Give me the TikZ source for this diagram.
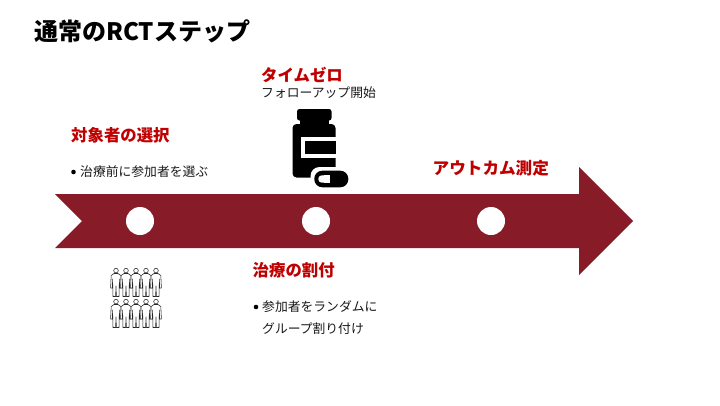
\documentclass[tikz,border=0pt]{standalone}
\usepackage{fontspec}
\setmainfont{Noto Sans CJK JP}
\definecolor{arrowred}{RGB}{136,27,40}
\definecolor{headred}{RGB}{192,0,0}
\tikzset{
  titletext/.style={anchor=west,inner sep=0pt,font=\fontsize{24}{28}\selectfont\bfseries,text=black},
  headtext/.style={anchor=west,inner sep=0pt,font=\fontsize{16.4}{20}\selectfont\bfseries,text=headred},
  bodytext/.style={anchor=west,inner sep=0pt,font=\fontsize{12.8}{16}\selectfont,text=black!90},
  marker/.style={circle,fill=white,draw=none,minimum size=28pt,inner sep=0pt},
  bulletdot/.style={circle,fill=black,draw=none,minimum size=4.6pt,inner sep=0pt},
  personline/.style={draw=black!85,line width=0.55pt,fill=white,line join=round},
  person/.pic={
    \path[personline] (0,2.6) circle (2.3);
    \path[personline] (-2,5.5) -- (2,5.5) -- (4.8,7.5) -- (5.4,20) -- (3.6,20) -- (3.4,11) -- (3,28.5) -- (0.4,28.5) -- (0,18) -- (-0.4,28.5) -- (-3,28.5) -- (-3.4,11) -- (-3.6,20) -- (-5.4,20) -- (-4.8,7.5) -- cycle;
  }
}
\begin{document}
\begin{tikzpicture}[x=1pt,y=-1pt]
\useasboundingbox (0,0) rectangle (720,405);
\fill[white] (0,0) rectangle (720,405);
\node[titletext] (title) at (34,31) {通常のRCTステップ};
% arrow
\fill[arrowred] (55,194) -- (579,194) -- (579,167) -- (633,221) -- (579,275) -- (579,248) -- (55,248) -- (82,221) -- cycle;
\node[marker] (m1) at (140,221) {};
\node[marker] (m2) at (316,221) {};
\node[marker] (m3) at (491,221) {};
% labels
\node[headtext] (h1) at (71,135) {対象者の選択};
\node[bulletdot] (b1) at (73.5,172) {};
\node[bodytext] (t1) at (80,171.5) {治療前に参加者を選ぶ};
\node[headtext] (h2) at (261,75) {タイムゼロ};
\node[bodytext] (t2) at (261,92.5) {フォローアップ開始};
\node[headtext,font=\fontsize{16.6}{20}\selectfont\bfseries] (h3) at (432.5,168) {アウトカム測定};
\node[headtext] (h4) at (252.5,270) {治療の割付};
\node[bulletdot] (b2) at (256,307) {};
\node[bodytext] (t3) at (262,307) {参加者をランダムに};
\node[bodytext] (t4) at (262,329) {グループ割り付け};
% bottle
\fill[black,rounded corners=2.5pt] (297,109) rectangle (331.5,120.5);
\fill[black] (300,119) rectangle (329,127);
\fill[black,rounded corners=4pt] (292.5,124) rectangle (335.5,177.5);
\fill[white] (300.5,137) rectangle (336,158);
\fill[black] (304.5,141.3) rectangle (335.5,153.7);
\fill[white,rounded corners=9pt] (310.5,167) rectangle (352,191);
\fill[black,rounded corners=8pt] (314.3,170.7) rectangle (348.3,187.3);
\fill[white,rounded corners=3.5pt] (318.3,175.3) -- (330,175.3) -- (330,182.7) -- (318.3,182.7) -- cycle;
\fill[white] (324,175.3) rectangle (330,182.7);
% people
\foreach \py in {268,299}{
  \foreach \px in {116,126,136,146,156}{
    \pic at (\px,\py) {person};
  }
}
\end{tikzpicture}
\end{document}
